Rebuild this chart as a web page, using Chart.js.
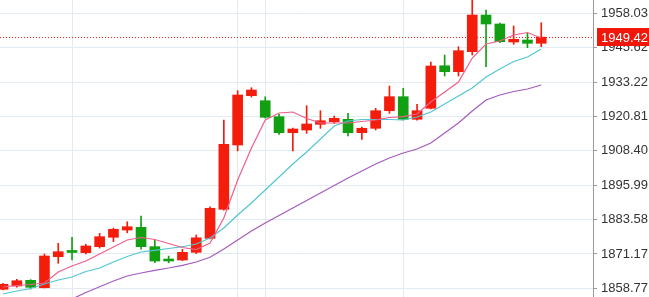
<!DOCTYPE html>
<html>
<head>
<meta charset="utf-8">
<script src="https://cdn.jsdelivr.net/npm/chart.js@4"></script>
<style>
  html, body { margin: 0; padding: 0; background: #fff; }
  #chart { display: block; }
</style>
</head>
<body>
<canvas id="chart" width="649" height="297"></canvas>
<script>
// candle data
let opens  = [1858.41, 1859.60, 1861.65, 1858.98, 1870.17, 1872.23, 1871.62, 1873.79, 1877.18, 1879.80,
              1880.79, 1873.80, 1868.87, 1868.98, 1871.76, 1876.80, 1887.28, 1910.50, 1928.29, 1926.48,
              1920.71, 1914.93, 1915.90, 1917.96, 1918.90, 1919.77, 1914.93, 1916.52, 1922.87, 1927.93,
              1919.77, 1923.74, 1939.10, 1936.95, 1944.17, 1957.40, 1954.17, 1947.67, 1948.39, 1947.20];
let highs  = [1860.60, 1862.00, 1861.90, 1871.15, 1875.00, 1877.20, 1874.65, 1878.60, 1880.50, 1882.80,
              1884.87, 1876.20, 1870.40, 1872.85, 1878.00, 1888.20, 1919.50, 1930.10, 1931.17, 1927.90,
              1921.57, 1916.60, 1924.68, 1922.87, 1920.96, 1921.93, 1917.00, 1923.74, 1931.79, 1930.96,
              1925.18, 1940.45, 1942.98, 1945.97, 1963.50, 1959.22, 1954.53, 1953.45, 1950.80, 1954.64];
let lows   = [1858.20, 1859.20, 1858.50, 1858.90, 1867.80, 1869.00, 1871.15, 1873.30, 1875.60, 1878.80,
              1872.85, 1868.00, 1868.00, 1868.80, 1871.30, 1876.60, 1887.00, 1908.33, 1927.80, 1920.20,
              1914.35, 1908.33, 1914.70, 1916.50, 1918.30, 1913.74, 1912.55, 1915.90, 1921.93, 1919.50,
              1919.50, 1923.50, 1935.40, 1935.40, 1942.98, 1938.75, 1947.42, 1946.84, 1945.60, 1945.97];
let closes = [1860.21, 1861.50, 1859.13, 1870.43, 1871.98, 1871.70, 1874.04, 1877.40, 1880.07, 1881.00,
              1873.80, 1868.60, 1868.62, 1871.76, 1877.00, 1887.65, 1910.74, 1928.54, 1930.34, 1920.49,
              1914.93, 1916.27, 1918.07, 1919.26, 1920.13, 1914.93, 1916.52, 1922.87, 1927.93, 1919.77,
              1922.87, 1939.00, 1936.95, 1944.53, 1957.40, 1954.17, 1947.78, 1948.64, 1947.20, 1949.42];

// moving averages (pink, cyan, purple)
let maFast = [1859.24, 1859.78, 1860.14, 1860.68, 1864.65, 1866.82, 1868.62, 1871.15, 1873.68, 1876.20,
              1877.10, 1876.38, 1874.94, 1873.49, 1872.77, 1875.12, 1884.14, 1897.86, 1909.41, 1919.52,
              1922.04, 1922.40, 1920.06, 1918.43, 1918.43, 1918.43, 1918.97, 1919.52, 1920.42, 1920.71,
              1921.68, 1926.01, 1929.62, 1933.23, 1941.89, 1946.95, 1948.03, 1950.20, 1951.10, 1949.11];
let maMid  = [1856.71, 1857.79, 1858.69, 1860.32, 1861.76, 1862.85, 1864.83, 1866.10, 1868.26, 1870.25,
              1871.87, 1872.48, 1873.13, 1873.78, 1874.76, 1876.92, 1880.53, 1885.23, 1889.56, 1894.25,
              1898.94, 1903.63, 1907.97, 1912.66, 1917.35, 1919.15, 1919.70, 1919.70, 1919.70, 1919.52,
              1920.60, 1922.40, 1925.29, 1928.18, 1931.07, 1935.04, 1937.92, 1940.63, 1942.26, 1945.14];
let maSlow = [null, null, null, null, 1852.74, 1854.91, 1857.25, 1859.35, 1861.40, 1863.21,
              1864.29, 1865.27, 1866.10, 1867.07, 1868.26, 1869.96, 1872.95, 1876.20, 1879.45, 1882.34,
              1885.05, 1887.75, 1890.46, 1893.17, 1895.87, 1898.58, 1901.11, 1903.63, 1905.80, 1907.60,
              1909.05, 1911.21, 1914.82, 1918.43, 1922.76, 1926.73, 1928.54, 1929.80, 1930.71, 1932.15];

let yTicks = [1858.77, 1871.17, 1883.58, 1895.99, 1908.40, 1920.81, 1933.22, 1945.62, 1958.03];
let gridAt = [5, 17, 19, 29];   // candles that carry a vertical grid line
let lastPrice = 1949.42;

const upColor = '#f41c0a';
const downColor = '#12a012';

let colors = closes.map((c, i) => c >= opens[i] ? upColor : downColor);
let wickData = highs.map((h, i) => ({ x: i, y: [lows[i], h] }));
let bodyData = opens.map((o, i) => ({ x: i, y: [Math.min(o, closes[i]), Math.max(o, closes[i])] }));
let line = arr => arr.map((v, i) => ({ x: i, y: v }));

const priceTag = {
    id: 'priceTag',
    beforeDatasetsDraw(chart) {
        const { ctx, chartArea, scales } = chart;
        let y = Math.round(scales.y.getPixelForValue(lastPrice)) + 0.5;
        ctx.save();
        ctx.strokeStyle = '#e3261c';
        ctx.lineWidth = 1;
        ctx.setLineDash([1, 2]);
        ctx.beginPath();
        ctx.moveTo(chartArea.left, y);
        ctx.lineTo(chartArea.right, y);
        ctx.stroke();
        ctx.restore();
    },
    afterDraw(chart) {
        const { ctx, chartArea, scales } = chart;
        let y = Math.round(scales.y.getPixelForValue(lastPrice));
        ctx.save();
        ctx.fillStyle = '#f0170a';
        ctx.fillRect(chartArea.right + 4, y - 9, 60, 18);
        ctx.fillStyle = '#ffffff';
        ctx.font = '13px "Liberation Sans", Arial, sans-serif';
        ctx.textBaseline = 'middle';
        ctx.fillText(lastPrice.toFixed(2), chartArea.right + 8, y + 1);
        ctx.restore();
    }
};

new Chart(document.getElementById('chart').getContext('2d'), {
    type: 'bar',
    data: {
        datasets: [
            { type: 'line', data: line(maFast), borderColor: '#ee5f8c', borderWidth: 1.2, pointRadius: 0, order: 0 },
            { type: 'line', data: line(maMid), borderColor: '#52c6d2', borderWidth: 1.2, pointRadius: 0, order: 0 },
            { type: 'line', data: line(maSlow), borderColor: '#a45bbd', borderWidth: 1.2, pointRadius: 0, order: 0 },
            { data: bodyData, backgroundColor: colors, barThickness: 10, minBarLength: 2, grouped: false, order: 1 },
            { data: wickData, backgroundColor: colors, barThickness: 1, grouped: false, order: 2 }
        ]
    },
    options: {
        responsive: false,
        animation: false,
        devicePixelRatio: 1,
        layout: { padding: 0 },
        plugins: {
            legend: { display: false },
            tooltip: { enabled: false }
        },
        scales: {
            x: {
                type: 'linear',
                min: -0.22,
                max: 42.75,
                offset: false,
                afterBuildTicks: s => { s.ticks = gridAt.map(v => ({ value: v })); },
                afterFit: s => { s.height = 0; s.paddingLeft = 0; s.paddingRight = 0; },
                grid: { color: '#e2ebf1', drawTicks: false, offset: false },
                border: { display: false },
                ticks: { display: false }
            },
            y: {
                position: 'right',
                min: 1855.63,
                max: 1962.83,
                afterBuildTicks: s => { s.ticks = yTicks.map(v => ({ value: v })); },
                afterFit: s => { s.width = 56; s.paddingTop = 0; s.paddingBottom = 0; },
                grid: { color: '#e2ebf1', tickColor: '#9a9a9a', tickLength: 4 },
                border: { color: '#9a9a9a' },
                ticks: {
                    color: '#333',
                    padding: 4,
                    font: { family: '"Liberation Sans", Arial, sans-serif', size: 13 },
                    callback: v => v.toFixed(2)
                }
            }
        }
    },
    plugins: [priceTag]
});
</script>
</body>
</html>
